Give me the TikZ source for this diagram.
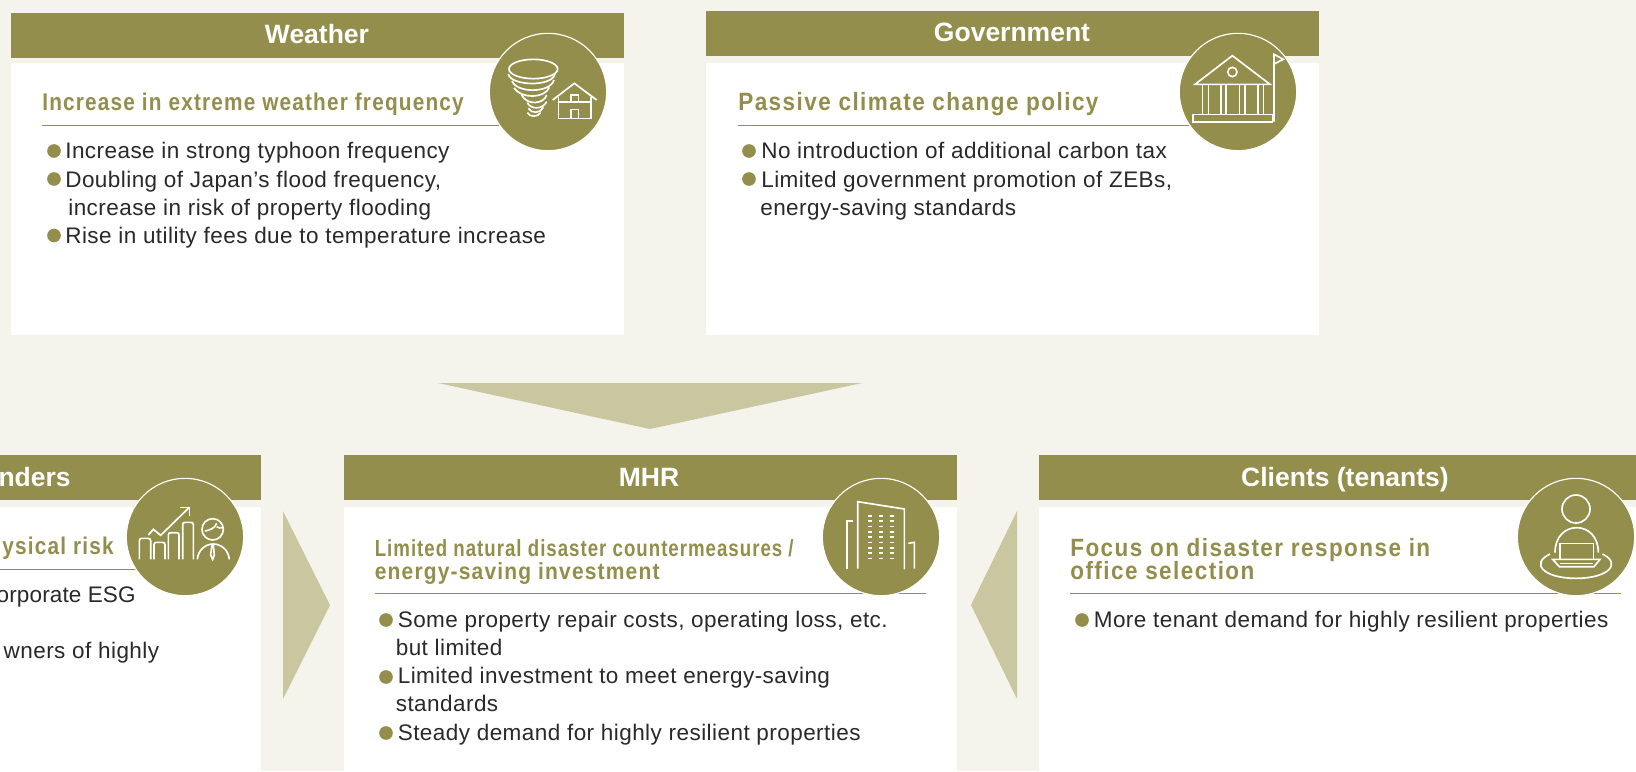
\documentclass[tikz,border=0pt]{standalone}
\usepackage{fontspec}
\setmainfont{Liberation Sans}
\newfontfamily\bodyf[LetterSpace=2]{Liberation Sans}
\newfontfamily\bodyg[LetterSpace=0.6]{Liberation Sans}
\newfontfamily\subw[FakeStretch=0.86,LetterSpace=4.9]{Liberation Sans}
\newfontfamily\subf[FakeStretch=0.90,LetterSpace=5.8]{Liberation Sans}
\newfontfamily\subc[FakeStretch=0.80,LetterSpace=4.3]{Liberation Sans}
\newfontfamily\subd[FakeStretch=0.90,LetterSpace=5]{Liberation Sans}
\definecolor{bgc}{HTML}{F4F3EC}
\definecolor{oli}{HTML}{938E4B}
\definecolor{tri}{HTML}{C9C6A0}
\definecolor{txt}{HTML}{2B2829}
\tikzset{
 x=0.6pt,y=-0.6pt,
 head/.style={font=\fontsize{15.9}{18}\bfseries,text=white,anchor=base,inner sep=0},
 sub/.style={font=\fontsize{15}{16}\subf\bfseries,text=oli,anchor=base west,inner sep=0},
 subw/.style={font=\fontsize{14.5}{16}\subw\bfseries,text=oli,anchor=base west,inner sep=0},
 subn/.style={font=\fontsize{14}{15}\subc\bfseries,text=oli,anchor=base west,inner sep=0},
 subm/.style={font=\fontsize{14}{15}\subd\bfseries,text=oli,anchor=base west,inner sep=0},
 body/.style={font=\fontsize{13.5}{15}\bodyf,text=txt,anchor=base west,inner sep=0},
 bodyt/.style={font=\fontsize{13.5}{15}\bodyg,text=txt,anchor=base east,inner sep=0},
 dotb/.style={circle,fill=oli,minimum size=8.2pt,inner sep=0},
 panel/.style={fill=white,draw=none},
 hbar/.style={fill=oli,draw=none},
 rulel/.style={draw=oli,line width=0.6pt},
 disc/.style={circle,fill=oli,draw=white,line width=0.7pt,minimum size=70.4pt,inner sep=0},
 ico/.style={draw=white,line width=1pt,line join=miter},
 arrowtri/.style={fill=tri,draw=none},
}
\begin{document}
\begin{tikzpicture}
\useasboundingbox (0,0) rectangle (1636,771);
\fill[bgc] (0,0) rectangle (1636,771);
% panels
\path[panel] (11,63) rectangle (624,335);
\path[hbar] (11,12.5) rectangle (624,58);
\path[panel] (706,63) rectangle (1319,335);
\path[hbar] (706,10.5) rectangle (1319,55.5);
\path[panel] (0,507) rectangle (260.5,771);
\path[hbar] (0,454.5) rectangle (260.5,500);
\path[panel] (343.5,507) rectangle (957,771);
\path[hbar] (343.5,454.5) rectangle (957,500);
\path[panel] (1039,507) rectangle (1636,771);
\path[hbar] (1039,454.5) rectangle (1636,500);
% triangles
\path[arrowtri] (438,383) -- (862,383) -- (650,429) -- cycle;
\path[arrowtri] (283,511) -- (330,605) -- (283,699) -- cycle;
\path[arrowtri] (1017,511) -- (971,605) -- (1017,699) -- cycle;
% rules
\draw[rulel] (42,125.5) -- (520,125.5);
\draw[rulel] (738,125.5) -- (1200,125.5);
\draw[rulel] (0,569.5) -- (150,569.5);
\draw[rulel] (374.5,593.5) -- (926,593.5);
\draw[rulel] (1070,593.5) -- (1621,593.5);
% headers
\node[head] (hw) at (317,43) {Weather};
\node[head] (hg) at (1012,41) {Government};
\node[head,anchor=base east] (hl) at (71,486) {nders};
\node[head] (hm) at (649,486) {MHR};
\node[head] (hc) at (1345,486) {Clients (tenants)};
% sub-headings
\node[subw] (sw) at (42,110) {Increase in extreme weather frequency};
\node[sub] (sg) at (738,110) {Passive climate change policy};
\node[subw,anchor=base east] (sl) at (114,554) {ysical risk};
\node[subn] (sm1) at (374.5,556) {Limited natural disaster countermeasures /};
\node[subm] (sm2) at (374.5,579) {energy-saving investment};
\node[sub] (sc1) at (1070,556) {Focus on disaster response in};
\node[sub] (sc2) at (1070,579) {office selection};
% body: weather
\node[dotb] (d1) at (54,151) {};
\node[body] (t1) at (65,158.5) {Increase in strong typhoon frequency};
\node[dotb] (d2) at (54,179) {};
\node[body] (t2) at (65,187) {Doubling of Japan’s flood frequency,};
\node[body] (t3) at (68,215) {increase in risk of property flooding};
\node[dotb] (d3) at (54,235.5) {};
\node[body] (t4) at (65,243) {Rise in utility fees due to temperature increase};
% body: government
\node[dotb] (d4) at (749,151) {};
\node[body] (t5) at (761,158.5) {No introduction of additional carbon tax};
\node[dotb] (d5) at (749,179) {};
\node[body] (t6) at (761,187) {Limited government promotion of ZEBs,};
\node[body] (t7) at (760,215) {energy-saving standards};
% body: left
\node[bodyt] (t8) at (136,602) {orporate ESG};
\node[body,anchor=base east] (t9) at (159.5,658) {wners of highly};
% body: MHR
\node[dotb] (d6) at (386,620) {};
\node[body] (t10) at (397.5,627) {Some property repair costs, operating loss, etc.};
\node[body] (t11) at (395.5,655) {but limited};
\node[dotb] (d7) at (386,677) {};
\node[body] (t12) at (397.5,683) {Limited investment to meet energy-saving};
\node[body] (t13) at (395.5,711.5) {standards};
\node[dotb] (d8) at (386,733) {};
\node[body] (t14) at (397.5,740) {Steady demand for highly resilient properties};
% body: clients
\node[dotb] (d9) at (1082,620) {};
\node[body] (t15) at (1093.5,627) {More tenant demand for highly resilient properties};
% discs
\node[disc] (c1) at (548,92) {};
\node[disc] (c2) at (1238,92) {};
\node[disc] (c3) at (185,537) {};
\node[disc] (c4) at (881,537) {};
\node[disc] (c5) at (1576,537) {};
% tornado + house
\begin{scope}[shift={(440,0)},scale=1/3,ico]
 \draw (280,207) ellipse [x radius=73,y radius=29];
 \draw (205,222) .. controls (212,258) and (335,262) .. (345,222);
 \draw (216,243) .. controls (230,280) and (330,280) .. (342,240);
 \draw (222,264) .. controls (245,298) and (315,295) .. (328,262);
 \draw (245,285) .. controls (262,318) and (312,312) .. (320,285);
 \draw (262,308) .. controls (272,330) and (310,328) .. (320,305);
 \draw (265,325) .. controls (275,342) and (302,340) .. (310,322);
 \draw (262,338) .. controls (270,352) and (292,352) .. (302,338);
 \draw (338,300) -- (403,250) -- (470,300);
 \draw (355,290) -- (355,355) -- (452,355) -- (452,290);
 \draw (355,305) -- (452,305);
 \draw (392,305) -- (392,285) -- (415,285) -- (415,305);
 \draw (392,355) -- (392,328) -- (415,328) -- (415,355);
\end{scope}
% bank
\begin{scope}[shift={(1110,0)},scale=1/3,ico]
 \draw (255,253) -- (367,167) -- (480,253) -- cycle;
 \draw (367,216) circle [radius=14];
 \foreach \px in {277,295,333,348,388,405,443,460} \draw (\px,253) -- (\px,343);
 \draw (248,343) rectangle (487,365);
 \draw (492,365) -- (492,163) -- (520,178) -- (492,192);
\end{scope}
% chart + person
\begin{scope}[shift={(0,430)},scale=1/3,ico]
 \draw (418,388) -- (418,332) .. controls (418,326) and (422,325) .. (426,325) -- (444,325) .. controls (450,325) and (452,328) .. (452,332) -- (452,388);
 \draw (462,388) -- (462,344) .. controls (462,339) and (465,337) .. (470,337) -- (487,337) .. controls (492,337) and (495,339) .. (495,344) -- (495,388);
 \draw (505,388) -- (505,315) .. controls (505,310) and (508,308) .. (513,308) -- (530,308) .. controls (535,308) and (537,310) .. (537,315) -- (537,388);
 \draw (548,388) -- (548,284) .. controls (548,279) and (551,277) .. (556,277) -- (572,277) .. controls (577,277) and (580,279) .. (580,284) -- (580,388);
 \draw (445,315) -- (460,298) -- (482,316) -- (568,232);
 \draw (540,232) -- (568,232) -- (568,258);
 \draw (638,298) circle [radius=32];
 \draw (615,303) .. controls (630,300) and (645,295) .. (650,280);
 \draw (650,290) .. controls (655,295) and (662,295) .. (668,292);
 \draw (592,388) .. controls (595,358) and (618,342) .. (640,342) .. controls (662,342) and (685,358) .. (688,388);
 \draw (636,345) -- (640,345) -- (643,375) -- (638,388) -- (632,375) -- cycle;
\end{scope}
% building
\begin{scope}[shift={(770,440)},scale=1/3,ico]
 \draw (263,386) -- (263,185) -- (403,207) -- (403,388);
 \draw (230,386) -- (230,243) -- (248,243);
 \draw (415,310) -- (433,307) -- (433,386);
 \foreach \wy in {227,243,259,275,291,307,323,339,355}
  \foreach \wx in {295,327,359} \draw (\wx,\wy) -- ++(12,0);
\end{scope}
% client
\begin{scope}[shift={(1440,440)},scale=1/3,ico]
 \draw (408,207) circle [radius=42];
 \draw (345,338) .. controls (345,290) and (375,263) .. (410,263) .. controls (445,263) and (475,290) .. (475,338);
 \draw (360,360) -- (360,310) -- (460,310) -- (460,360);
 \draw (338,358) -- (480,358) -- (462,380) -- (358,380) -- cycle;
 \draw (360,370) -- (460,370);
 \draw (330,342) .. controls (270,370) and (310,415) .. (408,415) .. controls (506,415) and (546,370) .. (487,342);
\end{scope}
\end{tikzpicture}
\end{document}
